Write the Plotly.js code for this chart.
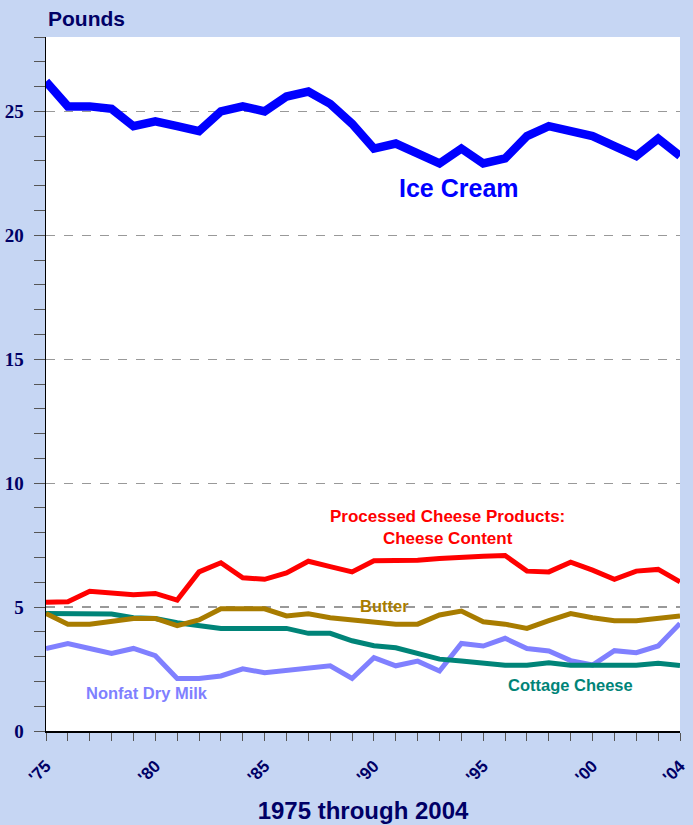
<!DOCTYPE html>
<html>
<head>
<meta charset="utf-8">
<script src="https://cdn.plot.ly/plotly-3.0.1.min.js"></script>
<style>
html,body{margin:0;padding:0;background:#c6d6f3;}
#chart{width:693px;height:825px;}
</style>
</head>
<body>
<div id="chart"></div>
<script>
const years = [1975,1976,1977,1978,1979,1980,1981,1982,1983,1984,1985,1986,1987,1988,1989,1990,1991,1992,1993,1994,1995,1996,1997,1998,1999,2000,2001,2002,2003,2004];
const xTickText = ["'75","","","","","'80","","","","","'85","","","","","'90","","","","","'95","","","","","'00","","","","'04"];
const iceCream = [26.2,25.2,25.2,25.1,24.4,24.6,24.4,24.2,25.0,25.2,25.0,25.6,25.8,25.3,24.5,23.5,23.7,23.3,22.9,23.5,22.9,23.1,24.0,24.4,24.2,24.0,23.6,23.2,23.9,23.2];
const processedCheese = [5.19,5.21,5.64,5.58,5.50,5.55,5.28,6.42,6.79,6.18,6.12,6.38,6.85,6.63,6.42,6.87,6.88,6.89,6.96,7.03,7.05,7.08,6.45,6.42,6.81,6.49,6.12,6.45,6.52,6.02];
const butter = [4.74,4.31,4.31,4.44,4.54,4.54,4.25,4.48,4.93,4.93,4.93,4.64,4.73,4.57,4.48,4.44,4.31,4.31,4.68,4.84,4.41,4.31,4.14,4.45,4.74,4.57,4.45,4.45,4.54,4.64];
const cottageCheese = [4.74,4.72,4.72,4.72,4.57,4.54,4.37,4.26,4.14,4.14,4.14,4.14,3.94,3.94,3.64,3.44,3.36,3.13,2.90,2.82,2.73,2.65,2.65,2.75,2.65,2.65,2.65,2.65,2.73,2.64];
const nonfatDryMilk = [3.33,3.53,3.33,3.13,3.33,3.04,2.12,2.12,2.22,2.51,2.35,2.43,2.51,2.63,2.12,2.96,2.63,2.82,2.42,3.53,3.43,3.74,3.33,3.23,2.84,2.66,3.24,3.16,3.43,4.34];
const yTicks = [0,5,10,15,20,25];

const navy = '#000066';
function tr(y, color, w){
  return {x: years, y: y, type:'scatter', mode:'lines', line:{color:color, width:w, shape:'linear'}, hoverinfo:'skip', cliponaxis:false};
}
const data = [
  tr(nonfatDryMilk,'#8080ff',5),
  tr(cottageCheese,'#008478',5),
  tr(butter,'#a87c00',5),
  tr(processedCheese,'#ff0000',5),
  tr(iceCream,'#0000ff',8.5)
];
const sans = 'Liberation Sans, Arial, sans-serif';
const annFont = (c,s)=>({family:sans, size:s, color:c, weight:'bold'});
const layout = {
  width:693, height:825,
  margin:{l:46, r:13, t:37, b:94},
  paper_bgcolor:'#c6d6f3',
  plot_bgcolor:'#ffffff',
  showlegend:false,
  xaxis:{
    range:[1975,2004],
    tickmode:'array', tickvals:years, ticktext:xTickText,
    tickangle:-45,
    ticks:'outside', ticklen:8, tickcolor:'#555555', tickwidth:1,
    ticklabelstandoff:9,
    showline:true, linecolor:'#000000', linewidth:1.5,
    showgrid:false, zeroline:false,
    tickfont:{family:sans, size:17, color:navy, weight:'bold'},
    title:{text:'1975 through 2004', font:{family:sans, size:24, color:navy, weight:'bold'}, standoff:16}
  },
  yaxis:{
    range:[0,28],
    tickmode:'array', tickvals:yTicks,
    ticks:'outside', ticklen:11, tickcolor:'#555555', tickwidth:1,
    ticklabelstandoff:6,
    minor:{dtick:1, tick0:0, ticks:'outside', ticklen:11, tickcolor:'#555555', tickwidth:1, showgrid:false},
    showline:true, linecolor:'#000000', linewidth:1.5,
    showgrid:true, gridcolor:'#999999', griddash:'dash', gridwidth:1.2,
    zeroline:false,
    tickfont:{family:'Liberation Serif, Times New Roman, serif', size:19, color:navy, weight:'bold'}
  },
  annotations:[
    {xref:'paper', yref:'paper', x:0, y:1, xanchor:'left', yanchor:'bottom', yshift:5, showarrow:false,
     text:'Pounds', font:annFont(navy,21)},
    {xref:'x', yref:'y', x:1993.9, y:21.9, showarrow:false, text:'Ice Cream', font:annFont('#0000ff',25)},
    {xref:'x', yref:'y', x:1993.35, y:8.21, showarrow:false, text:'Processed Cheese Products:<br>Cheese Content', font:annFont('#ff0000',17)},
    {xref:'x', yref:'y', x:1990.5, y:5.04, showarrow:false, text:'Butter', font:annFont('#a87c00',16.5)},
    {xref:'x', yref:'y', x:1999.0, y:1.87, showarrow:false, text:'Cottage Cheese', font:annFont('#008478',16.5)},
    {xref:'x', yref:'y', x:1979.6, y:1.53, showarrow:false, text:'Nonfat Dry Milk', font:annFont('#8080ff',16.5)}
  ]
};
Plotly.newPlot('chart', data, layout, {displayModeBar:false, staticPlot:true});
</script>
</body>
</html>
